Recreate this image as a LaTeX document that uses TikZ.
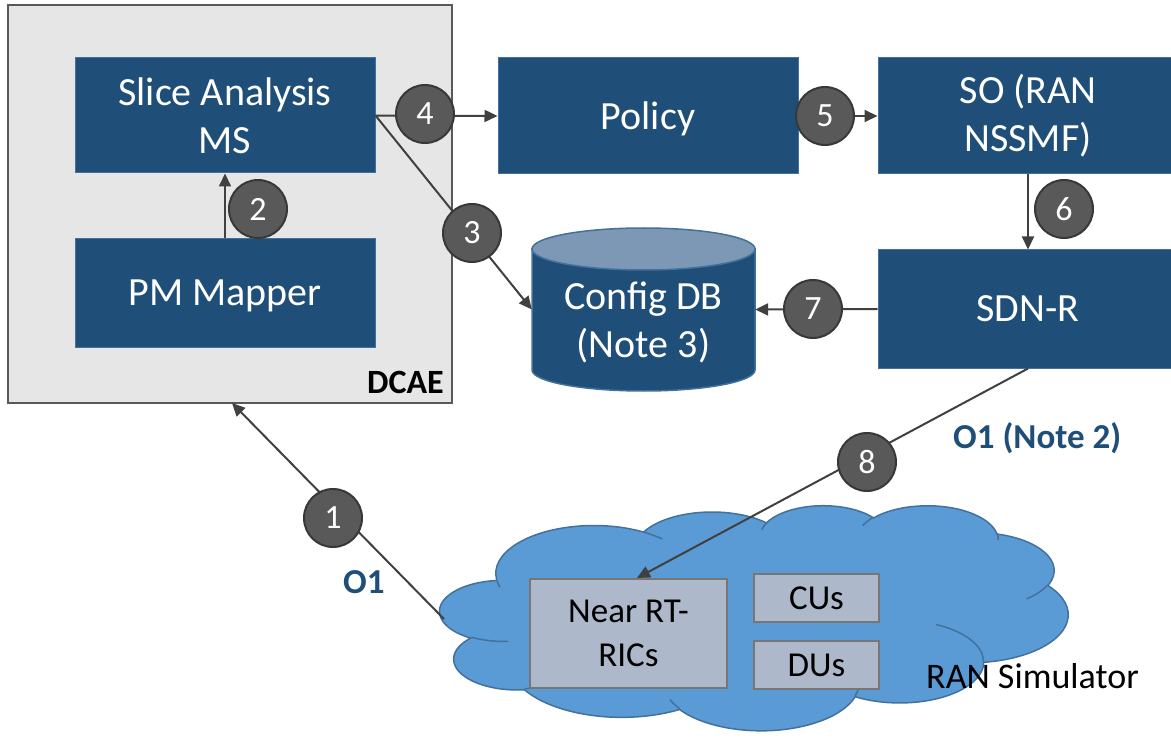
\documentclass[tikz,border=0pt]{standalone}
\usepackage{fontspec}
\setmainfont{Carlito}
\usetikzlibrary{arrows.meta}

\definecolor{boxblue}{HTML}{1F4E79}
\definecolor{boxedge}{HTML}{41719C}
\definecolor{dcaefill}{HTML}{E6E6E6}
\definecolor{dcaeedge}{HTML}{595959}
\definecolor{circfill}{HTML}{595959}
\definecolor{circedge}{HTML}{383838}
\definecolor{linkgray}{HTML}{404040}
\definecolor{dbtop}{HTML}{7C98B4}
\definecolor{cloudblue}{HTML}{5B9BD5}
\definecolor{cloudedge}{HTML}{41719C}
\definecolor{simfill}{HTML}{ADB9CA}
\definecolor{simedge}{HTML}{767676}
\definecolor{labelblue}{HTML}{1F4E79}

% Cloud outline built from elliptical arcs (radii in path units,
% angles given as visual angles and turned into parametric ones).
\newcommand\cloudprep[5]{%
  \pgfmathsetmacro\cpS{atan2((#2)*sin(#4),(#3)*cos(#4))}%
  \pgfmathsetmacro\cpE{atan2((#2)*sin((#4)+(#5)),(#3)*cos((#4)+(#5)))}%
  \pgfmathsetmacro\cpD{mod(\cpE-\cpS+720,360)}%
  \expandafter\xdef\csname cloudarc#1\endcsname{arc[start angle=\cpS, delta angle=\cpD, x radius=#2, y radius=#3]}%
}
\cloudprep{A}{67.53}{91.90}{-190.48749}{123.78053}
\cloudprep{B}{53.33}{72.67}{-144.10238}{89.94523}
\cloudprep{C}{43.65}{59.45}{-145.80792}{99.72302}
\cloudprep{D}{48.57}{65.95}{-130.98607}{117.24173}
\cloudprep{E}{53.33}{72.73}{-78.70888}{109.02692}
\cloudprep{F}{67.75}{92.20}{-46.26725}{130.269}
\cloudprep{G}{57.85}{78.67}{0.62502}{114.03333}
\cloudprep{H}{67.52}{92.15}{22.4516}{115.17255}
\cloudprep{I}{77.20}{105.43}{66.24263}{75.71102}
\cloudprep{J}{43.60}{59.18}{-274.94208}{146.73557}
\cloudprep{K}{43.45}{59.45}{-246.8285}{152.51885}
% inner creases of the cloud
\cloudprep{innerA}{43.45}{59.45}{86.742}{26.4295}
\cloudprep{innerB}{43.60}{59.18}{73.61047}{11.44747}
\cloudprep{innerC}{67.52}{92.15}{137.62415}{14.0811}
\cloudprep{innerD}{67.52}{92.15}{6.45327}{15.99835}
\cloudprep{innerE}{57.85}{78.67}{-70.29235}{70.91737}
\cloudprep{innerF}{53.33}{72.73}{30.31803}{27.7515}
\cloudprep{innerG}{48.57}{65.95}{-13.74433}{14.8589}
\cloudprep{innerH}{48.57}{65.95}{-149.18145}{18.19537}
\cloudprep{innerI}{43.65}{59.45}{-163.49427}{17.68635}
\cloudprep{innerJ}{67.53}{91.90}{-66.70695}{12.31935}
\cloudprep{innerK}{67.53}{91.90}{157.65435}{11.85817}

\begin{document}
\begin{tikzpicture}[x=1pt, y=-1pt,
  container/.style={draw=dcaeedge, fill=dcaefill, line width=2pt, inner sep=0pt},
  containerlabel/.style={font=\bfseries\fontsize{34}{40}\selectfont, inner sep=0pt},
  bluebox/.style={draw=boxedge, fill=boxblue, line width=1pt, text=white, align=center,
    inner sep=0pt, minimum width=300pt, font=\fontsize{40}{48}\selectfont},
  oneline/.style={text depth=0pt},
  dbbody/.style={draw=boxedge, fill=boxblue, line width=1.5pt},
  dbtext/.style={text=white, align=center, inner sep=0pt, font=\fontsize{40}{48}\selectfont},
  simbox/.style={draw=simedge, fill=simfill, line width=2pt, align=center, inner sep=0pt,
    font=\fontsize{35}{44}\selectfont},
  cloudline/.style={draw=cloudedge, line width=1.5pt},
  badge/.style={circle, draw=circedge, fill=circfill, line width=2pt, minimum size=58pt,
    inner sep=0pt, text=white, font=\fontsize{34}{40}\selectfont},
  flow/.style={draw=linkgray, line width=2pt, -{Triangle[length=13pt,width=12pt]}},
  olabel/.style={text=labelblue, inner sep=0pt, font=\bfseries\fontsize{35}{42}\selectfont}]

\useasboundingbox (0,0) rectangle (1171,738);
\clip (0,0) rectangle (1171,738);

% DCAE container and its microservices
\node[container, minimum width=444pt, minimum height=398pt] (dcae) at (230,204) {};
\node[containerlabel, anchor=base east] (dcaelabel) at (444,393) {DCAE};
\node[bluebox, minimum height=115pt] (slice) at (225,115.5) {Slice Analysis\\MS};
\node[bluebox, oneline, minimum height=108pt] (pm) at (225,293) {PM Mapper};

% ONAP components
\node[bluebox, oneline, minimum height=116pt] (policy) at (648,116) {Policy};
\node[bluebox, minimum height=116pt] (so) at (1028,116) {SO (RAN\\NSSMF)};
\node[bluebox, oneline, minimum height=118pt] (sdnr) at (1028,309) {SDN-R};

% Config DB cylinder
\node[minimum width=223pt, minimum height=163pt, inner sep=0pt] (db) at (643.5,309.5) {};
\draw[dbbody] (532,249) -- (532,370) arc[start angle=180, end angle=0, x radius=111.5, y radius=21] -- (755,249) -- cycle;
\draw[dbbody, fill=dbtop] (643.5,249) ellipse [x radius=111.5, y radius=21];
\node[dbtext] (dblabel) at (643.5,322) {Config DB\\(Note 3)};

% RAN simulator cloud
\begin{scope}[shift={(440,505)}, xscale=1.45370, yscale=0.52083]
  \draw[cloudline, fill=cloudblue] (39,143.7) \cloudarcA \cloudarcB \cloudarcC \cloudarcD
    \cloudarcE \cloudarcF \cloudarcG \cloudarcH \cloudarcI \cloudarcJ \cloudarcK -- cycle;
  \draw[cloudline] (46.93,261.77) \cloudarcinnerA;
  \draw[cloudline] (69.28,348.99) \cloudarcinnerB;
  \draw[cloudline] (164.78,390.90) \cloudarcinnerC;
  \draw[cloudline] (288.27,347.51) \cloudarcinnerD;
  \draw[cloudline] (341.29,229.54) \cloudarcinnerE;
  \draw[cloudline] (417.98,153.54) \cloudarcinnerF;
  \draw[cloudline] (383.24,54.26) \cloudarcinnerG;
  \draw[cloudline] (290.78,39.52) \cloudarcinnerH;
  \draw[cloudline] (221.41,47.20) \cloudarcinnerI;
  \draw[cloudline] (140.00,51.92) \cloudarcinnerJ;
  \draw[cloudline] (41.27,157.89) \cloudarcinnerK;
\end{scope}

\node[simbox, minimum width=197pt, minimum height=109pt] (ric) at (628.5,633.5) {Near RT-\\RICs};
\node[simbox, minimum width=125pt, minimum height=48pt] (cus) at (816.5,598) {CUs};
\node[simbox, minimum width=125pt, minimum height=48pt] (dus) at (816.5,665) {DUs};
\node[anchor=base west, inner sep=0pt, font=\fontsize{36}{42}\selectfont] (ransim) at (926,688) {RAN Simulator};

% Flow connectors
\coordinate (o1start) at (444,619);
\coordinate (o1end) at (232,403);
\draw[flow] (o1start) -- (o1end);
\draw[flow] (pm.north) -- (slice.south);
\draw[flow] (slice.east) -- (db.west);
\draw[flow] (slice.east) -- (policy.west);
\draw[flow] (policy.east) -- (so.west);
\draw[flow] (so.south) -- (sdnr.north);
\draw[flow] (sdnr.west) -- (db.east);
\draw[flow] (sdnr.south) -- ([xshift=8.5pt]ric.north);

% Step numbers
\node[badge] (n1) at (333,518) {1};
\node[badge] (n2) at (258,209) {2};
\node[badge] (n3) at (472,233) {3};
\node[badge] (n4) at (425,114) {4};
\node[badge] (n5) at (825,116) {5};
\node[badge] (n6) at (1064,209) {6};
\node[badge] (n7) at (813,309) {7};
\node[badge] (n8) at (867,462) {8};

% Interface labels
\node[olabel, anchor=base west] (o1lbl) at (343,593) {O1};
\node[olabel, anchor=base west] (o1note) at (953,448) {O1 (Note 2)};
\end{tikzpicture}
\end{document}
